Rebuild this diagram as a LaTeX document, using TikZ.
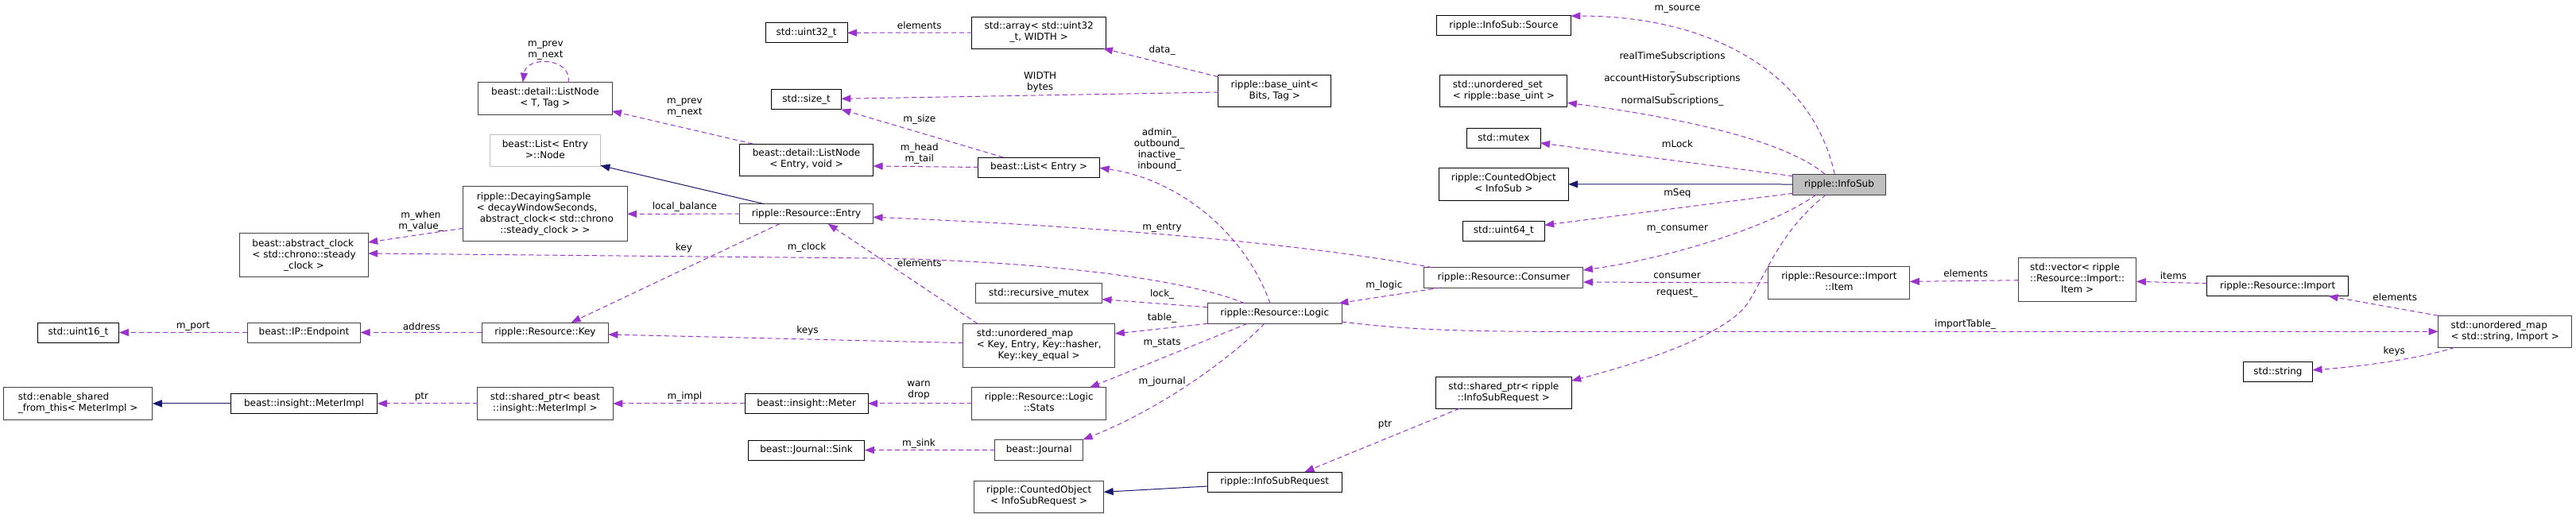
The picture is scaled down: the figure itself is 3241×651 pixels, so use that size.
\documentclass[tikz,border=0pt]{standalone}
\usepackage{fontspec}
\setmainfont{DejaVu Sans}
\usetikzlibrary{arrows.meta,calc}
\definecolor{depc}{HTML}{9A32CD}
\definecolor{inhc}{HTML}{191970}
\definecolor{bord}{HTML}{404040}
\definecolor{grey75}{HTML}{BFBFBF}
\newcommand{\mlab}[2]{\begin{tabular}{@{}l@{}}#1\\\multicolumn{1}{@{}c@{}}{#2}\end{tabular}}
\begin{document}
\begin{tikzpicture}[x=1pt,y=-1pt,font=\fontsize{12pt}{14pt}\selectfont,
  box/.style={draw=black,line width=1pt,inner sep=0pt,outer sep=0pt,fill=white,text=black},
  gbox/.style={box,draw=bord},
  sz/.style 2 args={minimum width=#1pt,minimum height=#2pt},
  dep/.style={draw=depc,line width=1pt,dash pattern=on 6pt off 4pt,-{Triangle[length=12pt,width=9pt,fill=depc]}},
  inh/.style={draw=inhc,line width=1pt,-{Triangle[length=12pt,width=9pt,fill=inhc]}},
  lbl/.style={inner sep=0pt,text=black,align=center}]
\fill[white] (0,0) rectangle (3241,651);
\useasboundingbox (0,0) rectangle (3241,651);

% nodes
\node[gbox,sz={161.4}{55}] (clock) at (382.5,321.2) {\mlab{beast::abstract\_clock\\< std::chrono::steady}{\_clock >}};
\node[box,sz={102.8}{25}] (u32) at (1014.6,41.3) {std::uint32\_t};
\node[gbox,sz={168.2}{40.3}] (lnT) at (685.9,123.9) {\mlab{beast::detail::ListNode}{< T, Tag >}};
\node[box,draw=grey75,sz={139}{40}] (lnode) at (685.9,189.3) {\mlab{beast::List< Entry}{>::Node}};
\node[gbox,sz={206.5}{69.3}] (decay) at (685.9,269.3) {\mlab{ripple::DecayingSample\\< decayWindowSeconds,\\\hspace{3.8pt}abstract\_clock< std::chrono}{::steady\_clock > >}};
\node[box,sz={167.9}{40}] (lnE) at (1014.6,201) {\mlab{beast::detail::ListNode}{< Entry, void >}};
\node[gbox,sz={167.9}{25}] (entry) at (1014.6,269.2) {ripple::Resource::Entry};
\node[box,sz={87.5}{25}] (sizet) at (1014.6,125.2) {std::size\_t};
\node[box,sz={168.5}{40}] (arr) at (1307.2,41) {\mlab{std::array< std::uint32}{\_t, WIDTH >}};
\node[box,sz={141.7}{40}] (buint) at (1603.7,114.7) {\mlab{ripple::base\_uint<}{Bits, Tag >}};
\node[box,sz={152.9}{25}] (list) at (1307.2,210.5) {beast::List< Entry >};
\node[box,sz={168.9}{25.7}] (src) at (1891.9,31.9) {ripple::InfoSub::Source};
\node[box,sz={160}{40}] (uset) at (1891.9,114.7) {\mlab{std::unordered\_set}{< ripple::base\_uint >}};
\node[box,sz={92.2}{25}] (mutex) at (1891.9,173.5) {std::mutex};
\node[box,sz={162.5}{40.3}] (coIS) at (1891.9,231.9) {\mlab{ripple::CountedObject}{< InfoSub >}};
\node[box,sz={102.5}{25.3}] (u64) at (1891.9,290.7) {std::uint64\_t};
\node[gbox,fill=grey75,sz={116.4}{26}] (infosub) at (2313.9,232) {ripple::InfoSub};
\node[gbox,sz={200}{25.3}] (consumer) at (1891.9,349.4) {ripple::Resource::Consumer};
\node[box,sz={170.7}{39.6}] (sprIS) at (1891.9,494.5) {\mlab{std::shared\_ptr< ripple}{::InfoSubRequest >}};
\node[gbox,sz={158.5}{25}] (rmutex) at (1307.2,369.2) {std::recursive\_mutex};
\node[gbox,sz={168.6}{25.6}] (logic) at (1603.7,394.5) {ripple::Resource::Logic};
\node[gbox,sz={191.1}{54.7}] (umapK) at (1307.2,434.7) {\mlab{std::unordered\_map\\< Key, Entry, Key::hasher,}{Key::key\_equal >}};
\node[gbox,sz={168.5}{40.3}] (stats) at (1307.2,507.9) {\mlab{ripple::Resource::Logic}{::Stats}};
\node[gbox,sz={110.7}{26}] (journal) at (1307.2,566.3) {beast::Journal};
\node[gbox,sz={162.9}{40}] (coISR) at (1307.2,625) {\mlab{ripple::CountedObject}{< InfoSubRequest >}};
\node[box,sz={168.6}{25}] (isr) at (1603.7,606.5) {ripple::InfoSubRequest};
\node[gbox,sz={159}{25}] (key) at (685.9,418.5) {ripple::Resource::Key};
\node[gbox,sz={170.7}{40.3}] (sprMI) at (685.9,507.9) {\mlab{std::shared\_ptr< beast}{::insight::MeterImpl >}};
\node[box,sz={155}{25.7}] (meter) at (1014.6,507.9) {beast::insight::Meter};
\node[box,sz={146.5}{25}] (sink) at (1014.6,566.5) {beast::Journal::Sink};
\node[box,sz={102.9}{25}] (u16) at (98.5,418.5) {std::uint16\_t};
\node[gbox,sz={142.2}{25}] (endpoint) at (382.5,418.5) {beast::IP::Endpoint};
\node[gbox,sz={187.2}{40.3}] (esft) at (98.2,507.9) {\mlab{std::enable\_shared}{\_from\_this< MeterImpl >}};
\node[box,sz={184.6}{25.7}] (mimpl) at (382.5,507.9) {beast::insight::MeterImpl};
\node[gbox,sz={177.9}{40.3}] (item) at (2313.9,355.9) {\mlab{ripple::Resource::Import}{::Item}};
\node[gbox,sz={148.6}{54.6}] (vec) at (2613.6,352) {\mlab{std::vector< ripple\\::Resource::Import::}{Item >}};
\node[box,sz={178.1}{25.4}] (import) at (2865.7,360) {ripple::Resource::Import};
\node[gbox,sz={168.4}{40}] (umapS) at (3151.7,417.3) {\mlab{std::unordered\_map}{< std::string, Import >}};
\node[box,sz={87}{25.7}] (string) at (2866,467.9) {std::string};

% edges
\draw[dep] ($(decay.west)+(0,18)$) -- ($(clock.east)+(0,-16.2)$);
\draw[dep] ($(logic.north)+(-37.9,0)$) .. controls (1490,350) and (1300,328) .. (1097,325) -- ($(clock.east)+(0,-2.2)$);
\draw[dep] ($(lnT.north)+(29.1,0)$) .. controls (720,72) and (662,70) .. ($(lnT.north)+(-28,0)$);
\draw[dep] ($(lnE.north)+(-67.5,0)$) -- ($(lnT.east)+(0,16)$);
\draw[inh] ($(entry.north)+(-53.2,0)$) -- ($(lnode.east)+(0,19)$);
\draw[dep] (entry.west) -- (decay.east);
\draw[dep] (arr.west) -- (u32.east);
\draw[dep] ($(buint.north west)+(0,2)$) -- ($(arr.south east)+(-3.5,0)$);
\draw[dep] ($(buint.west)+(0,1.3)$) -- ($(sizet.east)+(0,-0.9)$);
\draw[dep] ($(list.north)+(-45,0)$) -- (sizet.south east);
\draw[dep] (list.west) -- ($(lnE.east)+(0,8)$);
\draw[dep] ($(logic.north)+(-5.7,0)$) .. controls (1565,290) and (1480,225) .. ($(list.east)+(0,0.8)$);
\draw[dep] ($(consumer.north west)+(10.2,0)$) .. controls (1700,318) and (1500,290) .. ($(entry.east)+(0,4.1)$);
\draw[dep] ($(infosub.north)+(-5.7,0)$) .. controls (2280,90) and (2150,20) .. ($(src.east)+(0,-11.85)$);
\draw[dep] ($(infosub.north)+(-18.2,0)$) .. controls (2250,180) and (2130,150) .. ($(uset.east)+(0,14.6)$);
\draw[dep] ($(infosub.north west)+(0,2.7)$) -- ($(mutex.east)+(0,6.5)$);
\draw[inh] (infosub.west) -- (coIS.east);
\draw[dep] ($(infosub.south west)+(0,-1.7)$) -- ($(u64.east)+(0,-7.35)$);
\draw[dep] ($(infosub.south)+(-28.9,0)$) .. controls (2230,285) and (2100,325) .. ($(consumer.east)+(0,-9.35)$);
\draw[dep] (item.west) -- ($(consumer.east)+(0,5.65)$);
\draw[dep] ($(infosub.south)+(-16.4,0)$) .. controls (2240,290) and (2222,345) .. (2200,380) .. controls (2175,420) and (2070,455) .. ($(sprIS.east)+(0,-15.2)$);
\draw[dep] ($(vec.west)+(0,0.7)$) -- ($(item.east)+(0,-1.5)$);
\draw[dep] ($(import.west)+(0,-3.3)$) -- ($(vec.east)+(0,2.3)$);
\draw[dep] (umapS.north west) -- ($(import.south east)+(-25.2,0)$);
\draw[dep] ($(umapS.south west)+(20.7,0)$) .. controls (3060,447) and (2990,460) .. ($(string.east)+(0,-2.15)$);
\draw[dep] ($(logic.east)+(0,10.5)$) .. controls (1760,414) and (1830,417.3) .. (1950,417.3) -- (umapS.west);
\draw[dep] ($(consumer.south west)+(21.1,0)$) -- ($(logic.north east)+(-3.6,0)$);
\draw[dep] ($(logic.west)+(0,-7.8)$) -- ($(rmutex.east)+(0,7.5)$);
\draw[dep] (logic.south west) -- ($(umapK.east)+(0,-14.7)$);
\draw[dep] ($(logic.south)+(-34.3,0)$) -- ($(stats.north east)+(-20.4,0)$);
\draw[dep] ($(logic.south)+(-12.9,0)$) .. controls (1550,450) and (1460,515) .. (journal.north east);
\draw[dep] ($(umapK.west)+(0,-3)$) -- ($(key.east)+(0,2.5)$);
\draw[dep] ($(umapK.north west)+(18.2,0)$) -- ($(entry.south)+(27.2,0)$);
\draw[dep] ($(entry.south)+(-33.6,0)$) -- ($(key.north)+(32.7,0)$);
\draw[dep] (key.west) -- (endpoint.east);
\draw[dep] (endpoint.west) -- (u16.east);
\draw[inh] (mimpl.west) -- (esft.east);
\draw[dep] (sprMI.west) -- (mimpl.east);
\draw[dep] (meter.west) -- (sprMI.east);
\draw[dep] (stats.west) -- (meter.east);
\draw[dep] (journal.west) -- (sink.east);
\draw[inh] ($(isr.west)+(0,5.5)$) -- ($(coISR.east)+(0,-5.7)$);
\draw[dep] ($(sprIS.south)+(-55.75,0)$) -- ($(isr.north east)+(-46.5,0)$);

% labels
\node[lbl] (L1) at (529.5,278) {m\_when\\m\_value\_};
\node[lbl] (L2) at (1015,311.7) {m\_clock};
\node[lbl] (L3) at (686.4,64) {m\_prev\\m\_next};
\node[lbl] (L4) at (861.4,135.2) {m\_prev\\m\_next};
\node[lbl] (L6) at (861.4,260) {local\_balance};
\node[lbl] (L7) at (1156.8,32.3) {elements};
\node[lbl] (L8) at (1462,63.3) {data\_};
\node[lbl] (L9) at (1308.6,103) {WIDTH\\bytes};
\node[lbl] (L10) at (1156.8,150.7) {m\_size};
\node[lbl] (L11) at (1156.8,193.3) {m\_head\\m\_tail};
\node[lbl] (L12) at (1458.6,188) {admin\_\\outbound\_\\inactive\_\\inbound\_};
\node[lbl] (L13) at (1462,286.7) {m\_entry};
\node[lbl] (L14) at (2110.4,12) {m\_source};
\node[lbl] (L15) at (2104,99.5) {realTimeSubscriptions\\\_\\accountHistorySubscriptions\\\_\\normalSubscriptions\_};
\node[lbl] (L16) at (2110.4,180.7) {mLock};
\node[lbl] (L18) at (2110.4,243.7) {mSeq};
\node[lbl] (L19) at (2110.4,288.7) {m\_consumer};
\node[lbl] (L20) at (2110,347.7) {consumer};
\node[lbl] (L21) at (2110,369) {request\_};
\node[lbl] (L22) at (2473.2,344.3) {elements};
\node[lbl] (L23) at (2734.5,346.7) {items};
\node[lbl] (L24) at (3013.3,374.3) {elements};
\node[lbl] (L25) at (3012.3,442.3) {keys};
\node[lbl] (L26) at (2472.5,408.3) {importTable\_};
\node[lbl] (L27) at (1741.4,359.3) {m\_logic};
\node[lbl] (L28) at (1462.1,370) {lock\_};
\node[lbl] (L29) at (1462.1,400) {table\_};
\node[lbl] (L30) at (1462.1,431.7) {m\_stats};
\node[lbl] (L31) at (1462.1,480.7) {m\_journal};
\node[lbl] (L32) at (1016,415.7) {keys};
\node[lbl] (L33) at (1156.8,330.7) {elements};
\node[lbl] (L34) at (860.4,312) {key};
\node[lbl] (L35) at (530.4,410.7) {address};
\node[lbl] (L36) at (242.9,410.7) {m\_port};
\node[lbl] (L38) at (530.4,500) {ptr};
\node[lbl] (L39) at (861.4,499.3) {m\_impl};
\node[lbl] (L40) at (1156,491.8) {warn\\drop};
\node[lbl] (L41) at (1156,558.3) {m\_sink};
\node[lbl] (L43) at (1742.5,535) {ptr};
\end{tikzpicture}
\end{document}
